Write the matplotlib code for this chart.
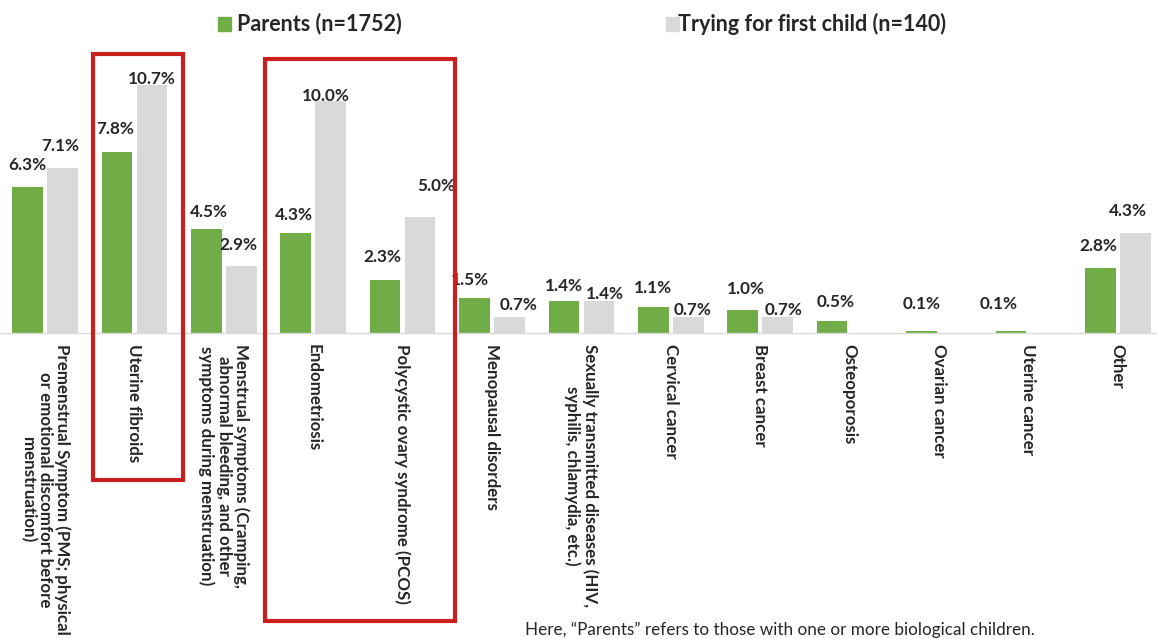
import matplotlib
matplotlib.use("Agg")
import matplotlib.pyplot as plt
from matplotlib.patches import Rectangle
import numpy as np

# ---- data -------------------------------------------------------------
categories = [
    "Premenstrual Symptom (PMS; physical\nor emotional discomfort before\nmenstruation)",
    "Uterine fibroids",
    "Menstrual symptoms (Cramping,\nabnormal bleeding, and other\nsymptoms during menstruation)",
    "Endometriosis",
    "Polycystic ovary syndrome (PCOS)",
    "Menopausal disorders",
    "Sexually transmitted diseases (HIV,\nsyphilis, chlamydia, etc.)",
    "Cervical cancer",
    "Breast cancer",
    "Osteoporosis",
    "Ovarian cancer",
    "Uterine cancer",
    "Other",
]
parents = [6.3, 7.8, 4.5, 4.3, 2.3, 1.5, 1.4, 1.1, 1.0, 0.5, 0.1, 0.1, 2.8]
trying = [7.1, 10.7, 2.9, 10.0, 5.0, 0.7, 1.4, 0.7, 0.7, 0.0, 0.0, 0.0, 4.3]
series_names = ["Parents (n=1752)", "Trying for first child (n=140)"]
footnote = "Here, \u201cParents\u201d refers to those with one or more biological children."

# ---- styling ----------------------------------------------------------
GREEN = "#70AD47"
GREY = "#D9D9D9"
RED = "#C8201E"
FONT = "Lato"

# label nudges (pixels, x right / y up) relative to each bar top
parent_nudge = [(0, 22), (-2, 23), (3, 17), (-2, 18), (-3, 23), (-5, 18), (0, 15),
                (0, 19), (3, 21), (4, 19), (0, 27), (-12, 27), (-2, 22)]
trying_nudge = [(-2, 22), (0, 6), (-3, 21), (-5, 5), (16, 31), (9, 12), (6, 7),
                (4, 7), (6, 7), (0, 0), (0, 0), (0, 0), (-7, 22)]

W, H = 1157, 639
fig = plt.figure(figsize=(W / 100, H / 100), dpi=100)
base_px = 333          # baseline, pixels from top
px_per_pct = 23.2
ax = fig.add_axes([0, (H - base_px) / H, 1, base_px / H])

x = np.arange(len(categories))
step = 89.4
ax.set_xlim(-45 / step, (W - 45) / step)
ax.set_ylim(0, base_px / px_per_pct)

bw = 30.5 / step
off = 17.5 / step
b1 = ax.bar(x - off, parents, bw, color=GREEN, label=series_names[0])
b2 = ax.bar(x + off, trying, bw, color=GREY, label=series_names[1])

lab_kw = dict(ha="center", va="center", fontsize=12.3, fontweight="bold",
              family=FONT, color="#262626", textcoords="offset pixels")
for i in range(len(categories)):
    ax.annotate(f"{parents[i]:.1f}%", (x[i] - off, parents[i]),
                xytext=parent_nudge[i], **lab_kw)
    if trying[i] > 0:
        ax.annotate(f"{trying[i]:.1f}%", (x[i] + off, trying[i]),
                    xytext=trying_nudge[i], **lab_kw)

for s in ["top", "left", "right"]:
    ax.spines[s].set_visible(False)
ax.spines["bottom"].set_color("#D9D9D9")
ax.spines["bottom"].set_linewidth(1)
ax.set_yticks([])
ax.set_xticks(x)
ax.set_xticklabels(categories, rotation=-90, fontsize=12.2, fontweight="bold",
                   family=FONT, color="#262626", linespacing=1.1)
for t in ax.get_xticklabels():
    t.set_multialignment("center")
ax.tick_params(axis="x", length=0, pad=8)


def fx(px):
    return px / W


def fy(py):
    return 1 - py / H


# legend drawn as swatches + text across the top
leg = [(218, 237, GREEN, series_names[0]), (666, 678, GREY, series_names[1])]
for sx, tx, col, name in leg:
    fig.patches.append(Rectangle((fx(sx), fy(31)), fx(13), 14 / H,
                                 transform=fig.transFigure, color=col))
    fig.text(fx(tx), fy(24), name, ha="left", va="center", fontsize=15.5,
             fontweight="bold", family=FONT, color="#262626")

# highlight boxes
for x0, x1, y0, y1 in [(93, 183, 54, 480), (265, 455, 59, 621)]:
    fig.patches.append(Rectangle((fx(x0), fy(y1)), fx(x1 - x0), (y1 - y0) / H,
                                 transform=fig.transFigure, fill=False,
                                 edgecolor=RED, linewidth=3, zorder=10))

fig.text(fx(525), fy(630), footnote, ha="left", va="center", fontsize=12.3,
         family=FONT, color="#262626")

fig.savefig("out.png", dpi=100)
